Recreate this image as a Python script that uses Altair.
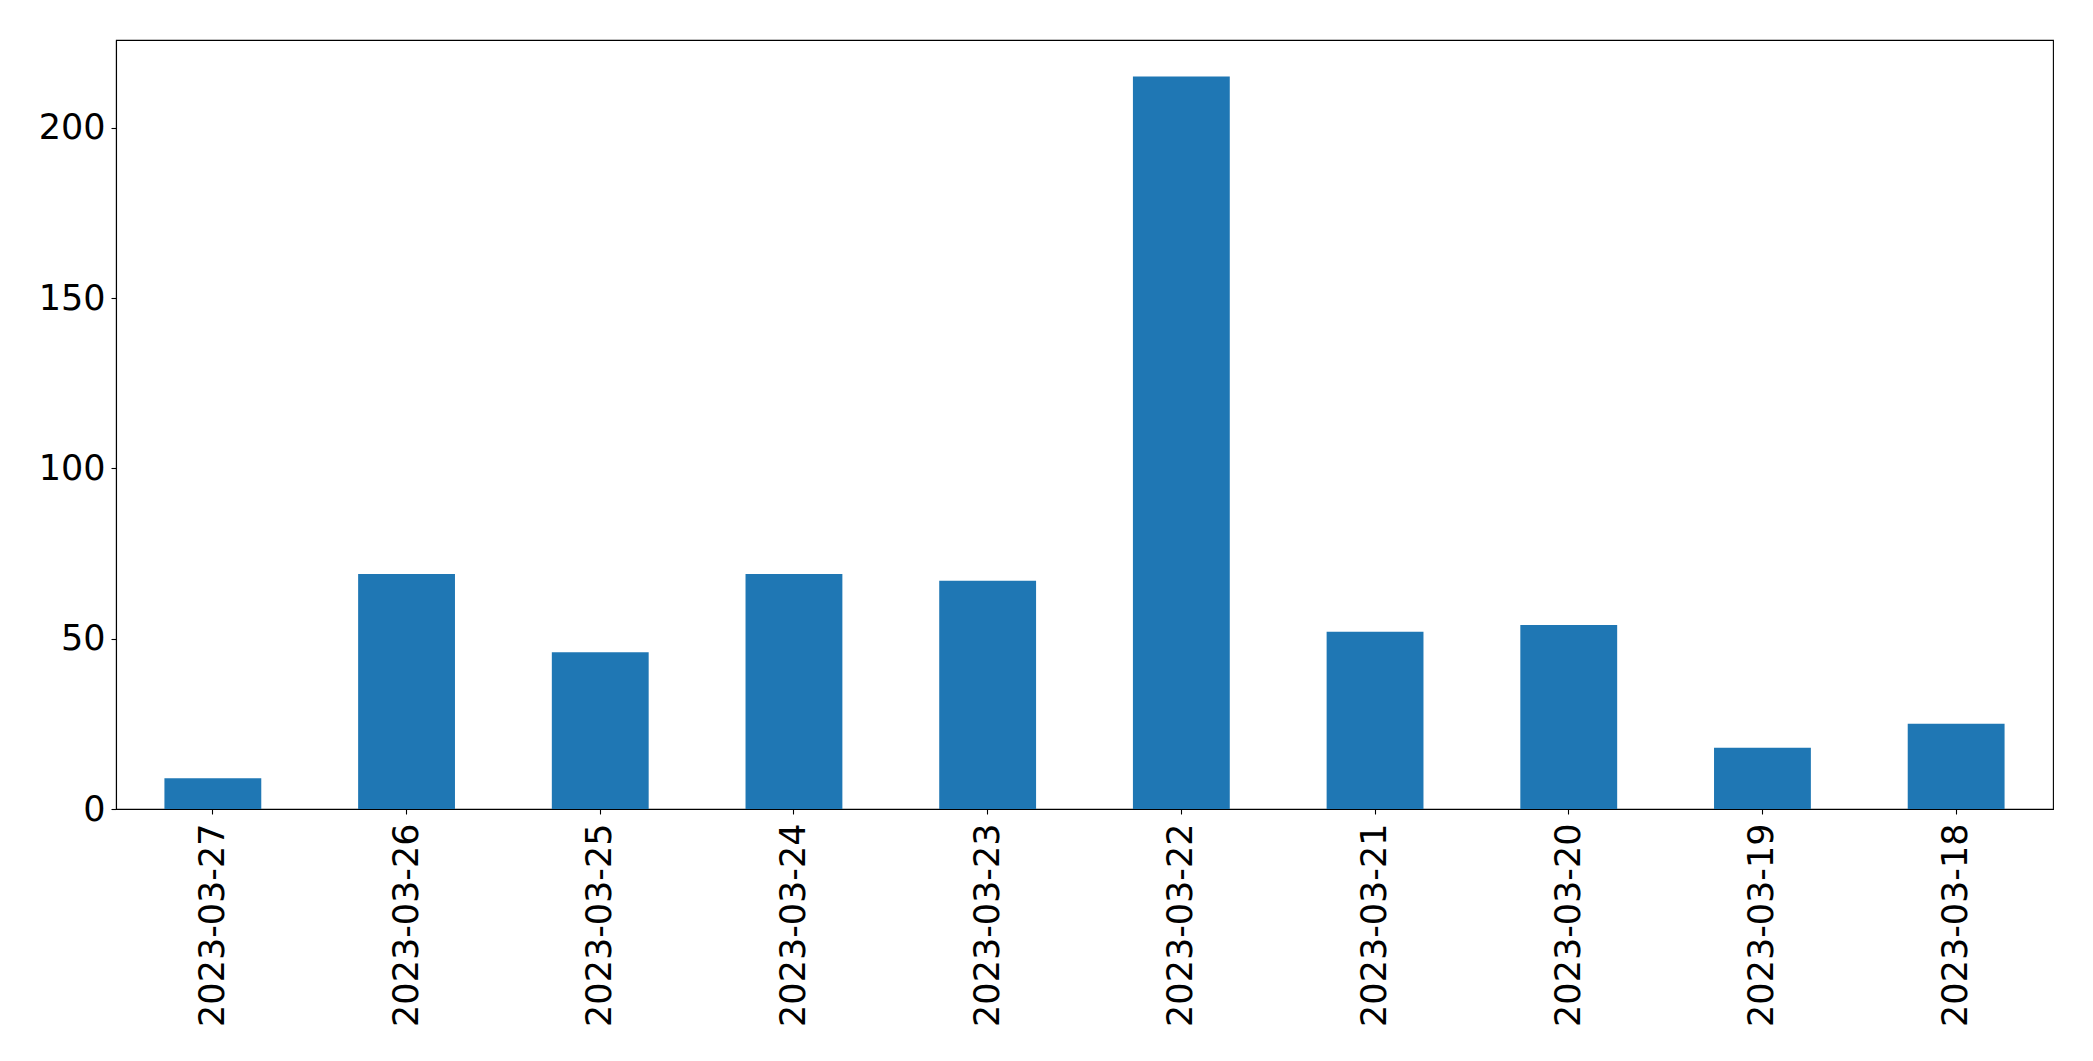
import altair as alt
import pandas as pd

dates = ["2023-03-27", "2023-03-26", "2023-03-25", "2023-03-24", "2023-03-23",
         "2023-03-22", "2023-03-21", "2023-03-20", "2023-03-19", "2023-03-18"]
counts = [9, 69, 46, 69, 67, 215, 52, 54, 18, 25]
y_ticks = [0, 50, 100, 150, 200]

df = pd.DataFrame({"date": dates, "count": counts})

chart = alt.Chart(df).mark_bar(color="#1f77b4").encode(
    x=alt.X("date:N", sort=None, title=None,
            scale=alt.Scale(paddingInner=0.5, paddingOuter=0.25),
            axis=alt.Axis(labelAngle=270, labelPadding=9, tickSize=5, labelLimit=500)),
    y=alt.Y("count:Q", title=None,
            scale=alt.Scale(domain=[0, 225.75], nice=False, zero=True),
            axis=alt.Axis(values=y_ticks, format="d", tickSize=5, labelPadding=6)),
).properties(
    width=1937,
    height=769,
    autosize=alt.AutoSizeParams(type="none"),
    padding={"left": 108, "top": 32, "right": 30, "bottom": 240},
).configure_axis(
    grid=False,
    domainColor="black",
    domainWidth=1.1,
    tickColor="black",
    tickWidth=1.1,
    labelColor="black",
    labelFont="DejaVu Sans",
    labelFontSize=35,
).configure_view(
    stroke="black",
    strokeWidth=1.1,
)

chart.save("out.html", embed_options={"renderer": "svg", "actions": False})
